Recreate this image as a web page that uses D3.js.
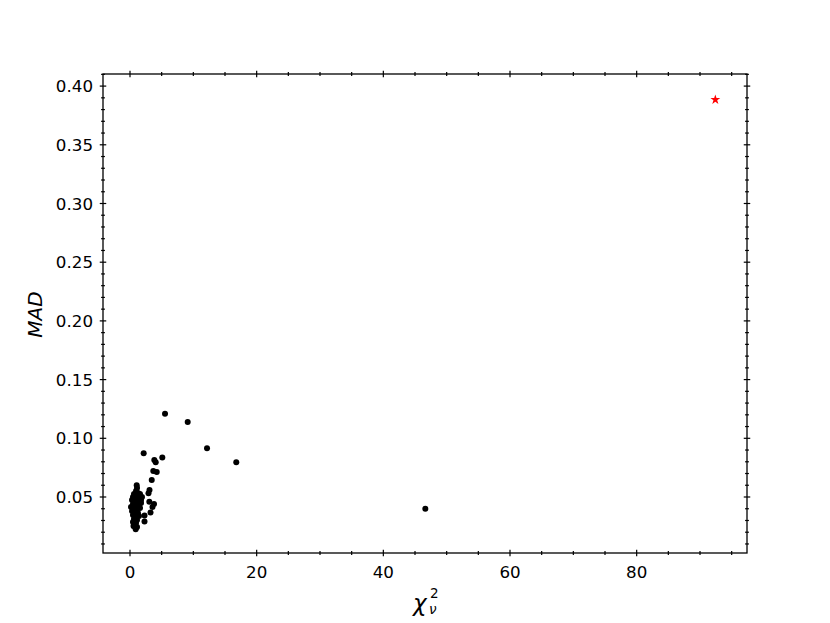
<!DOCTYPE html>
<html>
<head>
<meta charset=utf-8>
<style>
body {margin: 0; background: #fff;}
svg {display: block;}
text {font-family: 'DejaVu Sans', sans-serif; fill: #000;}
</style>
</head>
<body>
<svg id=chart width=830 height=623></svg>

<script src='https://cdn.jsdelivr.net/npm/d3@7/dist/d3.min.js'></script>
<script>
//data: reduced chi-square vs MAD
var chi2 = [5.53, 9.11, 12.16, 16.78, 46.63, 2.16, 5.10, 3.84, 4.06, 3.68, 4.22, 3.43,
  1.06, 3.08, 2.92, 3.05, 3.79, 3.55, 3.24, 2.29, 2.29, 0.55, 0.90,
  1.11, 0.95, 0.63, 1.26, 1.58, 0.47, 0.95, 1.42, 0.32, 0.79, 1.26, 1.74,
  0.47, 0.95, 1.42, 0.16, 0.63, 1.11, 1.58, 0.32, 0.79, 1.26, 0.47, 0.95,
  1.42, 0.63, 1.11, 0.47, 0.95, 0.63, 1.11, 1.89, 1.74, 0.80, 1.20];
var mad = [0.121, 0.1139, 0.0915, 0.0796, 0.0400, 0.0872, 0.0836, 0.0815, 0.0796, 0.0721, 0.0713, 0.0645,
  0.0600, 0.0560, 0.0532, 0.0460, 0.0440, 0.0415, 0.0368, 0.0342, 0.0291, 0.0253, 0.0225,
  0.0577, 0.0551, 0.0526, 0.0534, 0.0526, 0.0500, 0.0491, 0.0500, 0.0474, 0.0466, 0.0466, 0.0474,
  0.0440, 0.0432, 0.0432, 0.0415, 0.0406, 0.0398, 0.0406, 0.0381, 0.0372, 0.0364, 0.0347, 0.0338,
  0.0338, 0.0313, 0.0304, 0.0287, 0.0279, 0.0253, 0.0245, 0.0500, 0.0449, 0.0520, 0.0440];
//the flagged outlier (red star)
var outlierChi2 = [92.42];
var outlierMad = [0.3884];

var xMajor = [0, 20, 40, 60, 80];
var xMinor = d3.range(5, 100, 5).filter(function(v){ return v % 20 !== 0; });
var yMajor = [0.05, 0.10, 0.15, 0.20, 0.25, 0.30, 0.35, 0.40];
var yMinor = d3.range(1, 42).map(function(i){ return i/100; })
  .filter(function(v){ return Math.round(v*100) % 5 !== 0; });

//axes box
var box = {left: 103, right: 747, top: 74, bottom: 553};
var svg = d3.select('#chart');

var x = d3.scaleLinear().domain([-4.263, 97.42]).range([box.left, box.right]);
var y = d3.scaleLinear().domain([0.0023, 0.4103]).range([box.bottom, box.top]);

//points
svg.append('g').selectAll('circle')
    .data(chi2.map(function(c, i){ return [c, mad[i]]; }))
  .enter().append('circle')
    .attr('cx', function(d){ return x(d[0]); })
    .attr('cy', function(d){ return y(d[1]); })
    .attr('r', 3)
    .attr('fill', '#000');

svg.append('g').selectAll('path')
    .data(outlierChi2.map(function(c, i){ return [c, outlierMad[i]]; }))
  .enter().append('path')
    .attr('d', d3.symbol().type(d3.symbolStar).size(30))
    .attr('transform', function(d){ return 'translate(' + x(d[0]) + ',' + y(d[1]) + ')'; })
    .attr('fill', '#ff0000');

//ticks crossing the spines (in and out), on all four sides
function ticks(g, scale, values, len, vertical, pos){
  g.selectAll(null).data(values).enter().append('line')
      .attr('x1', function(d){ return vertical ? pos - len/2 : scale(d); })
      .attr('x2', function(d){ return vertical ? pos + len/2 : scale(d); })
      .attr('y1', function(d){ return vertical ? scale(d) : pos - len/2; })
      .attr('y2', function(d){ return vertical ? scale(d) : pos + len/2; })
      .attr('stroke', '#000')
      .attr('stroke-width', 1.2);
}
var tg = svg.append('g');
ticks(tg, x, xMajor, 6.5, false, box.bottom);
ticks(tg, x, xMajor, 6.5, false, box.top);
ticks(tg, x, xMinor, 3.8, false, box.bottom);
ticks(tg, x, xMinor, 3.8, false, box.top);
ticks(tg, y, yMajor, 6.5, true, box.left);
ticks(tg, y, yMajor, 6.5, true, box.right);
ticks(tg, y, yMinor, 3.8, true, box.left);
ticks(tg, y, yMinor, 3.8, true, box.right);

//spines
svg.append('rect')
    .attr('x', box.left).attr('y', box.top)
    .attr('width', box.right - box.left).attr('height', box.bottom - box.top)
    .attr('fill', 'none').attr('stroke', '#000').attr('stroke-width', 1.3);

//tick labels
svg.append('g').selectAll('text').data(xMajor).enter().append('text')
    .attr('x', function(d){ return x(d); })
    .attr('y', box.bottom + 25)
    .attr('text-anchor', 'middle')
    .style('font-size', '16.7px')
    .text(d3.format('d'));

svg.append('g').selectAll('text').data(yMajor).enter().append('text')
    .attr('x', box.left - 10)
    .attr('y', function(d){ return y(d); })
    .attr('dy', '0.36em')
    .attr('text-anchor', 'end')
    .style('font-size', '16.7px')
    .text(d3.format('.2f'));

//axis titles
svg.append('text')
    .attr('transform', 'translate(41.5,' + ((box.top + box.bottom)/2 + 1) + ') rotate(-90)')
    .attr('text-anchor', 'middle')
    .style('font-size', '20px')
    .style('font-style', 'italic')
    .text('MAD');

var xt = svg.append('g');
xt.append('text').attr('x', 413).attr('y', 611)
    .style('font-style', 'italic').style('font-size', '23px').text('χ');
xt.append('text').attr('x', 430).attr('y', 598)
    .style('font-size', '13.5px').text('2');
xt.append('text').attr('x', 429).attr('y', 614)
    .style('font-size', '13.5px').style('font-style', 'italic').text('ν');
</script>
</body>
</html>
